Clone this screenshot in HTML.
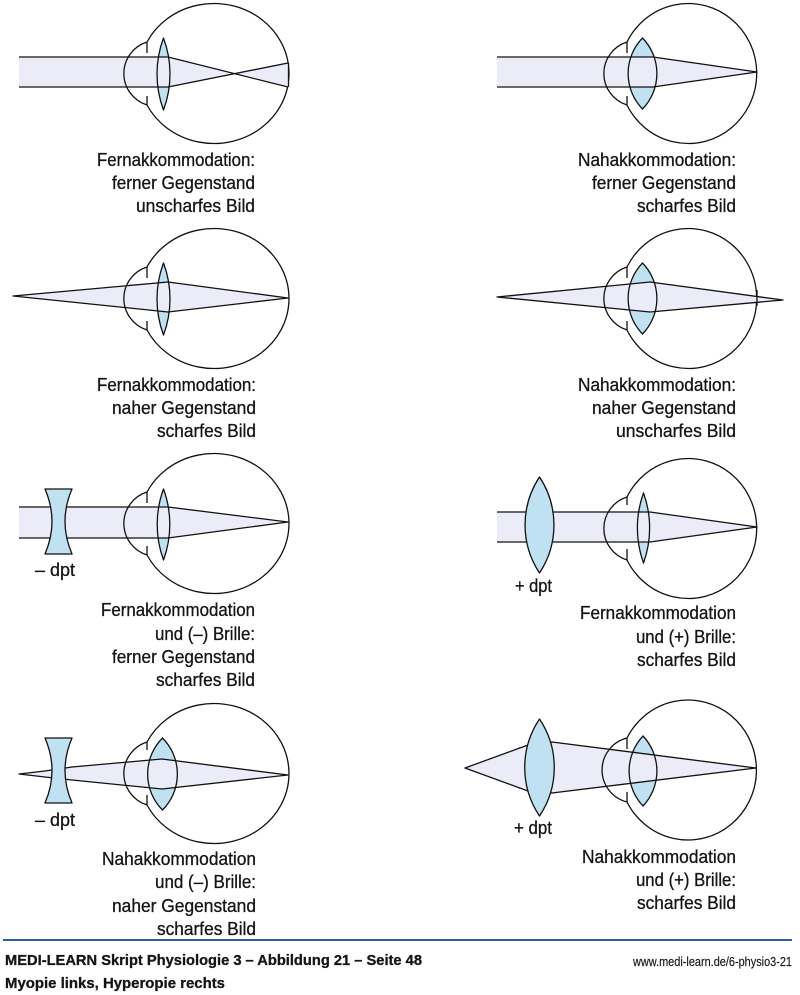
<!DOCTYPE html>
<html><head><meta charset="utf-8"><style>
html,body{margin:0;padding:0;background:#fff;}
svg{display:block;}
text{font-family:"Liberation Sans Narrow","Liberation Sans",sans-serif;fill:#151515;stroke:#151515;stroke-width:0.3;}
</style></head><body>
<svg width="800" height="995" viewBox="0 0 800 995" xmlns="http://www.w3.org/2000/svg">
<g stroke="#111" stroke-width="1.3" stroke-linejoin="round" fill="none">

<!-- ROW 1 LEFT -->
<path d="M147 42 A75 70 0 1 1 147 105" fill="#fff"/>
<path d="M163.5 38 A103 103 0 0 1 163.5 110 A103 103 0 0 1 163.5 38Z" fill="#c0e1f1" stroke="none"/>
<path d="M19 57 L168 57 L288 87 L288 63 L168 87 L19 87Z" fill="#ececf8" stroke="none"/>
<path d="M19 57 H168 L288 87 M19 87 H168 L288 63 M288.5 63 V87"/>
<path d="M163.5 38 A103 103 0 0 1 163.5 110 A103 103 0 0 1 163.5 38Z"/>
<path d="M147 42 A33 33 0 0 0 147 105 M147 42 V53 M147 96 V105"/>

<!-- ROW 1 RIGHT -->
<path d="M627 42 A68.5 70 0 1 1 627 105" fill="#fff"/>
<path d="M642.5 38 A51 51 0 0 1 642.5 109 A51 51 0 0 1 642.5 38Z" fill="#c0e1f1" stroke="none"/>
<path d="M497 57 L653 57 L757 72 L653 87 L497 87Z" fill="#ececf8" stroke="none"/>
<path d="M497 57 H653 L757 72 L653 87 H497"/>
<path d="M642.5 38 A51 51 0 0 1 642.5 109 A51 51 0 0 1 642.5 38Z"/>
<path d="M627 42 A33 33 0 0 0 627 105 M627 42 V53 M627 96 V105"/>

<!-- ROW 2 LEFT -->
<path d="M147 267 A75 70 0 1 1 147 330" fill="#fff"/>
<path d="M163.5 263 A103 103 0 0 1 163.5 335 A103 103 0 0 1 163.5 263Z" fill="#c0e1f1" stroke="none"/>
<path d="M13 296 L168 282 L288 298 L168 312Z" fill="#ececf8" stroke="none"/>
<path d="M13 296 L168 282 L288 298 L168 312Z"/>
<path d="M163.5 263 A103 103 0 0 1 163.5 335 A103 103 0 0 1 163.5 263Z"/>
<path d="M147 267 A33 33 0 0 0 147 330 M147 267 V278 M147 321 V330"/>

<!-- ROW 2 RIGHT -->
<path d="M627 267 A68.5 70 0 1 1 627 330" fill="#fff"/>
<path d="M642.5 263 A51 51 0 0 1 642.5 334 A51 51 0 0 1 642.5 263Z" fill="#c0e1f1" stroke="none"/>
<path d="M497 297 L650 282 L783 300 L650 312Z" fill="#ececf8" stroke="none"/>
<path d="M757 290 V306" stroke-width="1.3"/>
<path d="M497 297 L650 282 L783 300 L650 312Z"/>
<path d="M642.5 263 A51 51 0 0 1 642.5 334 A51 51 0 0 1 642.5 263Z"/>
<path d="M627 267 A33 33 0 0 0 627 330 M627 267 V278 M627 321 V330"/>

<!-- ROW 3 LEFT -->
<path d="M147 492 A75 70 0 1 1 147 555" fill="#fff"/>
<path d="M163.5 489 A103 103 0 0 1 163.5 560 A103 103 0 0 1 163.5 489Z" fill="#c0e1f1" stroke="none"/>
<path d="M19 507 L168 507 L288 522 L168 538 L19 538Z" fill="#ececf8" stroke="none"/>
<path d="M19 507 H168 L288 522 L168 538 H19"/>
<path d="M163.5 489 A103 103 0 0 1 163.5 560 A103 103 0 0 1 163.5 489Z"/>
<path d="M147 492 A33 33 0 0 0 147 555 M147 492 V503 M147 546 V555"/>
<path d="M45 489 L72 489 Q58 521.5 72 554 L45 554 Q59 521.5 45 489Z" fill="#c0e1f1"/>

<!-- ROW 3 RIGHT -->
<path d="M627 497 A68.5 70 0 1 1 627 560" fill="#fff"/>
<path d="M643.5 493 A103 103 0 0 1 643.5 563 A103 103 0 0 1 643.5 493Z" fill="#c0e1f1" stroke="none"/>
<path d="M497 512 L650 512 L757 527 L650 542 L497 542Z" fill="#ececf8" stroke="none"/>
<path d="M497 512 H650 L757 527 L650 542 H497"/>
<path d="M643.5 493 A103 103 0 0 1 643.5 563 A103 103 0 0 1 643.5 493Z"/>
<path d="M627 497 A33 33 0 0 0 627 560 M627 497 V505 M627 549 V560"/>
<path d="M539.5 477 A87 87 0 0 1 539.5 573 A87 87 0 0 1 539.5 477Z" fill="#c0e1f1"/>

<!-- ROW 4 LEFT -->
<path d="M147 742 A75 70 0 1 1 147 805" fill="#fff"/>
<path d="M162.5 738 A51 51 0 0 1 162.5 810 A51 51 0 0 1 162.5 738Z" fill="#c0e1f1" stroke="none"/>
<path d="M19 774 L45 771 L72 767 L162 759 L288 775 L162 789 L72 780 L45 777Z" fill="#ececf8" stroke="none"/>
<path d="M19 774 L45 771 L72 767 L162 759 L288 775 L162 789 L72 780 L45 777Z"/>
<path d="M162.5 738 A51 51 0 0 1 162.5 810 A51 51 0 0 1 162.5 738Z"/>
<path d="M147 742 A33 33 0 0 0 147 805 M147 742 V750 M147 795 V805"/>
<path d="M45 738 L72 738 Q58 770.5 72 803 L45 803 Q59 770.5 45 738Z" fill="#c0e1f1"/>

<!-- ROW 4 RIGHT -->
<path d="M627 738 A68.5 70 0 1 1 627 802" fill="#fff"/>
<path d="M643 736 A51 51 0 0 1 643 806 A51 51 0 0 1 643 736Z" fill="#c0e1f1" stroke="none"/>
<path d="M465 768 L528 745 L552 742 L756 768 L552 793 L528 791Z" fill="#ececf8" stroke="none"/>
<path d="M465 768 L528 745 L552 742 L756 768 L552 793 L528 791Z"/>
<path d="M643 736 A51 51 0 0 1 643 806 A51 51 0 0 1 643 736Z"/>
<path d="M627 738 A33 33 0 0 0 627 802 M627 738 V749 M627 792 V802"/>
<path d="M539.5 719 A87 87 0 0 1 539.5 816 A87 87 0 0 1 539.5 719Z" fill="#c0e1f1"/>
</g>

<g font-size="18" text-anchor="end">
<!-- row 1 -->
<text x="255" y="166" textLength="158" lengthAdjust="spacingAndGlyphs">Fernakkommodation:</text>
<text x="255" y="189" textLength="143" lengthAdjust="spacingAndGlyphs">ferner Gegenstand</text>
<text x="255" y="212" textLength="119" lengthAdjust="spacingAndGlyphs">unscharfes Bild</text>
<text x="736" y="166" textLength="158" lengthAdjust="spacingAndGlyphs">Nahakkommodation:</text>
<text x="736" y="189" textLength="144" lengthAdjust="spacingAndGlyphs">ferner Gegenstand</text>
<text x="736" y="212" textLength="99" lengthAdjust="spacingAndGlyphs">scharfes Bild</text>
<!-- row 2 -->
<text x="256" y="391" textLength="159" lengthAdjust="spacingAndGlyphs">Fernakkommodation:</text>
<text x="256" y="414" textLength="144" lengthAdjust="spacingAndGlyphs">naher Gegenstand</text>
<text x="256" y="437" textLength="99" lengthAdjust="spacingAndGlyphs">scharfes Bild</text>
<text x="736" y="391" textLength="158" lengthAdjust="spacingAndGlyphs">Nahakkommodation:</text>
<text x="736" y="414" textLength="144" lengthAdjust="spacingAndGlyphs">naher Gegenstand</text>
<text x="736" y="437" textLength="120" lengthAdjust="spacingAndGlyphs">unscharfes Bild</text>
<!-- row 3 -->
<text x="255" y="616" textLength="154" lengthAdjust="spacingAndGlyphs">Fernakkommodation</text>
<text x="255" y="640" textLength="100" lengthAdjust="spacingAndGlyphs">und (–) Brille:</text>
<text x="255" y="663" textLength="143" lengthAdjust="spacingAndGlyphs">ferner Gegenstand</text>
<text x="255" y="686" textLength="99" lengthAdjust="spacingAndGlyphs">scharfes Bild</text>
<text x="736" y="619" textLength="156" lengthAdjust="spacingAndGlyphs">Fernakkommodation</text>
<text x="736" y="643" textLength="100" lengthAdjust="spacingAndGlyphs">und (+) Brille:</text>
<text x="736" y="666" textLength="99" lengthAdjust="spacingAndGlyphs">scharfes Bild</text>
<!-- row 4 -->
<text x="256" y="865" textLength="154" lengthAdjust="spacingAndGlyphs">Nahakkommodation</text>
<text x="256" y="888" textLength="101" lengthAdjust="spacingAndGlyphs">und (–) Brille:</text>
<text x="256" y="912" textLength="144" lengthAdjust="spacingAndGlyphs">naher Gegenstand</text>
<text x="256" y="935" textLength="99" lengthAdjust="spacingAndGlyphs">scharfes Bild</text>
<text x="736" y="863" textLength="154" lengthAdjust="spacingAndGlyphs">Nahakkommodation</text>
<text x="736" y="886" textLength="100" lengthAdjust="spacingAndGlyphs">und (+) Brille:</text>
<text x="736" y="909" textLength="99" lengthAdjust="spacingAndGlyphs">scharfes Bild</text>
</g>

<g font-size="18">
<text x="35" y="576" textLength="40" lengthAdjust="spacingAndGlyphs">– dpt</text>
<text x="35" y="826" textLength="40" lengthAdjust="spacingAndGlyphs">– dpt</text>
<text x="515" y="592" textLength="37" lengthAdjust="spacingAndGlyphs">+ dpt</text>
<text x="514" y="834" textLength="38" lengthAdjust="spacingAndGlyphs">+ dpt</text>
</g>

<line x1="3" y1="940" x2="792" y2="940" stroke="#2b5ea7" stroke-width="2"/>
<text x="5" y="965" font-size="14.5" font-weight="bold" textLength="417" lengthAdjust="spacingAndGlyphs">MEDI-LEARN Skript Physiologie 3 – Abbildung 21 – Seite 48</text>
<text x="633" y="966" font-size="12.5" textLength="159" lengthAdjust="spacingAndGlyphs" style="stroke-width:0.15">www.medi-learn.de/6-physio3-21</text>
<text x="5" y="988" font-size="14.5" font-weight="bold" textLength="220" lengthAdjust="spacingAndGlyphs">Myopie links, Hyperopie rechts</text>
</svg>
</body></html>
